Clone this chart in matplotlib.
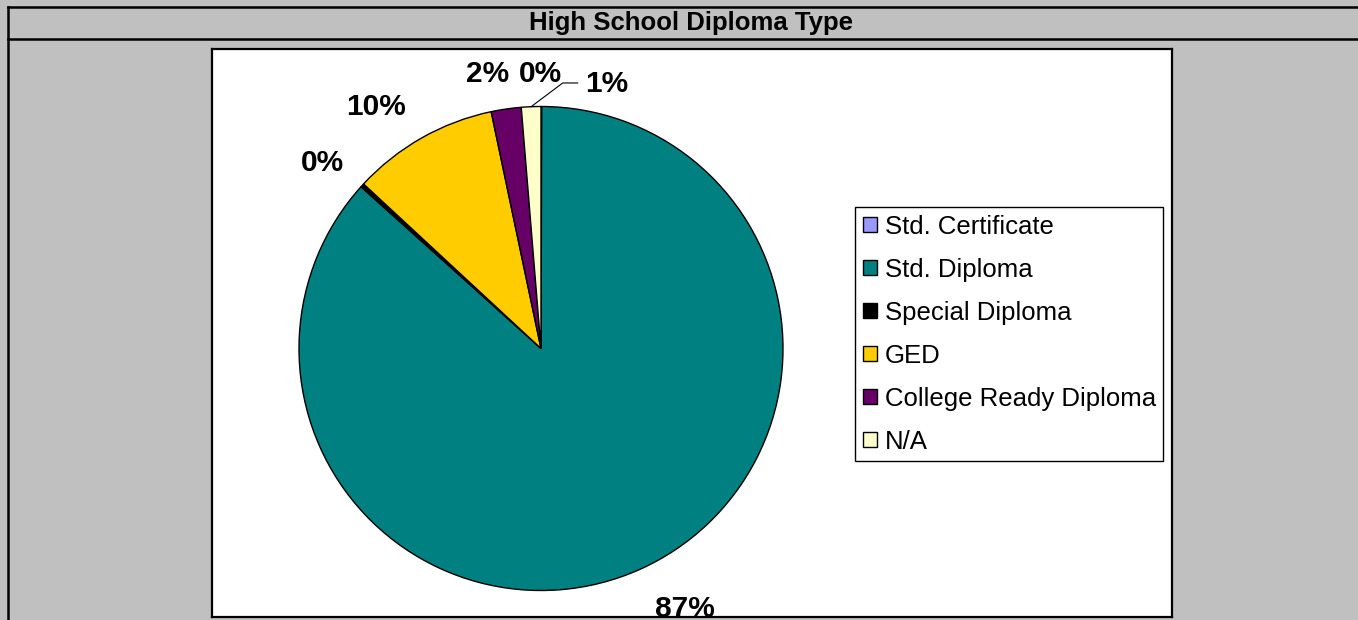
#!/usr/bin/env python3
# pie of high school diploma types, excel-ish look

import numpy as np
import matplotlib
matplotlib.use("Agg")
import matplotlib.pyplot as plt
from matplotlib.lines import Line2D

plt.rcParams['font.family'] = ['Liberation Sans', 'DejaVu Sans']

# data (percent of students)
categories = ["Std. Certificate", "Std. Diploma", "Special Diploma", "GED",
              "College Ready Diploma", "N/A"]
shares = [0.05, 86.6, 0.25, 9.8, 2.0, 1.3]
colors = ["#9999FF", "#008080", "#000000", "#FFCC00", "#660066", "#FFFFCC"]
title = "High School Diploma Type"

# label layout: radial distance (in radii) and angle nudge (deg) from wedge middle
lbl_dist = [1.134, 1.232, 1.185, 1.206, 1.156, 1.126]
lbl_dang = [0.3, 5.0, 2.0, 4.8, 2.8, -16.2]

W, H = 1358, 620
gray = "#C0C0C0"

def fx(px):
    return px / W

def fy(py):
    return 1 - py / H

fig = plt.figure(figsize=(W / 100, H / 100), dpi=100, facecolor=gray)

# table-ish frame lines
for (x0, y0, x1, y1) in [(8, 7, W, 7), (8, 39, W, 39), (8, 7, 8, H)]:
    fig.add_artist(Line2D([fx(x0), fx(x1)], [fy(y0), fy(y1)], color="black",
                          lw=1.8, transform=fig.transFigure))
fig.text(fx(691), fy(23), title, ha="center", va="center", fontsize=18.5,
         fontweight="bold")

# white chart area
ax_bg = fig.add_axes([fx(212), fy(617), fx(960), 568 / H])
ax_bg.set_facecolor("white")
ax_bg.set_xticks([])
ax_bg.set_yticks([])
for s in ax_bg.spines.values():
    s.set_linewidth(1.6)
    s.set_color("black")

# pie axes, square, radius 242 px centered at (541, 348.5)
R = 242
ax = fig.add_axes([fx(541 - R), fy(348.5 + R), 2 * R / W, 2 * R / H])
ax.axis("off")
wedges, _ = ax.pie(shares, colors=colors, startangle=90, counterclock=False,
                   radius=1, wedgeprops=dict(edgecolor="black", linewidth=1.0))
ax.set_xlim(-1, 1)
ax.set_ylim(-1, 1)

total = sum(shares)
for i, w in enumerate(wedges):
    mid = 0.5 * (w.theta1 + w.theta2)
    a = np.deg2rad(mid + lbl_dang[i])
    lx = lbl_dist[i] * np.cos(a)
    ly = lbl_dist[i] * np.sin(a)
    t = ax.text(lx, ly, "%d%%" % round(shares[i] / total * 100), ha="center",
                va="center", fontsize=21.5, fontweight="bold")
    # the bottom label runs into the chart border, as in the original
    t.set_clip_box(ax_bg.bbox)
    t.set_clip_on(True)
    if categories[i] == "N/A":
        # leader line from the wedge to the label
        m = np.deg2rad(mid)
        xs = [np.cos(m), lx - 0.18, lx - 0.118]
        ys = [np.sin(m), ly + 0.004, ly + 0.004]
        ax.plot(xs, ys, color="black", lw=0.8, clip_on=False)

leg = fig.legend(wedges, categories, loc="upper left",
                 bbox_to_anchor=(fx(855), fy(207)), borderaxespad=0,
                 fontsize=18.5, handlelength=0.55, handleheight=0.55,
                 handletextpad=0.3, labelspacing=0.74, borderpad=0.3,
                 fancybox=False, framealpha=1)
leg.get_frame().set_edgecolor("black")
leg.get_frame().set_linewidth(1.0)

fig.savefig("out.png", dpi=100, facecolor=gray)
